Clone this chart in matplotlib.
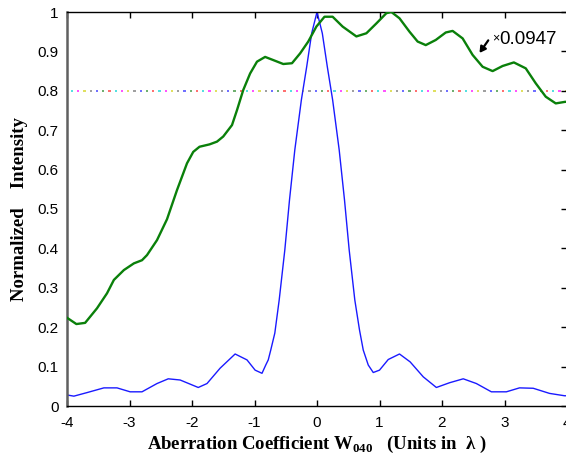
import numpy as np
import matplotlib
matplotlib.use("Agg")
from matplotlib import pyplot as plt

plt.rcParams['font.family'] = ['Liberation Sans', 'DejaVu Sans']
plt.rcParams['axes.unicode_minus'] = False
plt.rcParams['mathtext.fontset'] = 'custom'
plt.rcParams['mathtext.rm'] = 'Liberation Serif:bold'
plt.rcParams['mathtext.bf'] = 'Liberation Serif:bold'

# green curve (scaled by 0.0947)
green_x = [-4.0, -3.85, -3.71, -3.52, -3.36, -3.25, -3.09, -2.93, -2.80, -2.72,
           -2.56, -2.40, -2.24, -2.08, -1.98, -1.88, -1.72, -1.60, -1.50, -1.36,
           -1.28, -1.18, -1.07, -0.96, -0.83, -0.70, -0.54, -0.40, -0.27, -0.14,
           -0.01, 0.12, 0.25, 0.41, 0.63, 0.79, 0.95, 1.11, 1.19, 1.32,
           1.48, 1.61, 1.74, 1.90, 2.06, 2.17, 2.33, 2.49, 2.65, 2.81,
           2.97, 3.15, 3.34, 3.50, 3.66, 3.82, 3.97, 4.0]
green_y = [0.224, 0.208, 0.211, 0.248, 0.286, 0.320, 0.345, 0.362, 0.370, 0.383,
           0.421, 0.474, 0.548, 0.616, 0.645, 0.658, 0.664, 0.671, 0.684, 0.713,
           0.751, 0.802, 0.844, 0.874, 0.886, 0.878, 0.868, 0.870, 0.895, 0.925,
           0.963, 0.988, 0.988, 0.963, 0.938, 0.946, 0.971, 0.997, 1.000, 0.984,
           0.950, 0.925, 0.916, 0.929, 0.948, 0.952, 0.933, 0.891, 0.861, 0.850,
           0.863, 0.872, 0.857, 0.819, 0.785, 0.768, 0.772, 0.772]

# blue curve
blue_x = [-4.0, -3.89, -3.68, -3.41, -3.20, -2.99, -2.80, -2.56, -2.38, -2.19,
          -1.90, -1.76, -1.55, -1.31, -1.12, -0.99, -0.88, -0.82, -0.78, -0.74,
          -0.675, -0.605, -0.515, -0.44, -0.355, -0.25, -0.165, -0.085, 0.0,
          0.085, 0.165, 0.25, 0.355, 0.44, 0.515, 0.605, 0.68, 0.74, 0.82,
          0.90, 1.0, 1.14, 1.32, 1.49, 1.70, 1.91, 2.12, 2.34, 2.55,
          2.79, 3.03, 3.24, 3.46, 3.72, 3.96, 4.0]
blue_y = [0.028, 0.025, 0.034, 0.046, 0.046, 0.036, 0.036, 0.057, 0.069, 0.066,
          0.047, 0.057, 0.096, 0.132, 0.117, 0.091, 0.083, 0.104, 0.117, 0.142,
          0.185, 0.269, 0.396, 0.523, 0.650, 0.777, 0.861, 0.946, 1.000,
          0.946, 0.861, 0.777, 0.650, 0.523, 0.396, 0.269, 0.193, 0.142, 0.104,
          0.085, 0.091, 0.118, 0.132, 0.112, 0.074, 0.047, 0.059, 0.069, 0.057,
          0.036, 0.036, 0.046, 0.045, 0.032, 0.026, 0.026]

threshold = 0.8
scale_text = '0.0947'
x_ticks = [-4, -3, -2, -1, 0, 1, 2, 3, 4]
y_ticks = [0, 0.1, 0.2, 0.3, 0.4, 0.5, 0.6, 0.7, 0.8, 0.9, 1]
y_ticklabels = ['0', '0.1', '0.2', '0.3', '0.4', '0.5', '0.6', '0.7', '0.8', '0.9', '1']

dot_colors = ['#55e0e0', '#ff55ff', '#e0e060', '#a0a0a0', '#7070ff', '#70b070', '#ff7070']

fig = plt.figure(figsize=(5.66, 4.57), dpi=100)
ax = fig.add_axes([67 / 566, 51 / 457, 500 / 566, 394 / 457])

# dotted threshold line, each dot its own colour
dots_x = np.arange(-3.92, 4.0, 0.1)
dots_c = [dot_colors[i % len(dot_colors)] for i in range(len(dots_x))]
ax.scatter(dots_x, [threshold] * len(dots_x), s=2.5, marker='s', c=dots_c,
           linewidths=0, zorder=1)

ax.plot(blue_x, blue_y, color='#1a1aff', lw=1.0, zorder=2)
ax.plot(green_x, green_y, color='#0a800a', lw=1.7, zorder=3)

# scale annotation
ax.annotate('', xy=(2.60, 0.896), xytext=(2.74, 0.928),
            arrowprops=dict(arrowstyle='-|>,head_length=0.35,head_width=0.2',
                            color='black', lw=1.6, shrinkA=0, shrinkB=0))
ax.text(2.80, 0.933, '×', fontsize=9, ha='left', va='center')
ax.text(2.91, 0.930, scale_text, fontsize=13.5, ha='left', va='center')

ax.set_xlim(-4, 4)
ax.set_ylim(0, 1)
ax.set_xticks(x_ticks)
ax.set_yticks(y_ticks)
ax.set_yticklabels(y_ticklabels)

ax.tick_params(axis='both', direction='in', labelsize=11, top=True, right=True,
               length=4, width=1, colors='black', pad=7)
ax.tick_params(axis='y', left=False, pad=6)

for side in ['top', 'bottom']:
    ax.spines[side].set_color('black')
    ax.spines[side].set_linewidth(1.0)
ax.spines['left'].set_color('#606060')
ax.spines['left'].set_linewidth(1.8)
ax.spines['right'].set_visible(False)

ax.set_xlabel(r'Aberration Coefficient W$_{\mathbf{040}}$   (Units in  λ )',
              family='Liberation Serif', weight='bold', fontsize=13.5, labelpad=3)
ax.set_ylabel('Normalized    Intensity', family='Liberation Serif', weight='bold',
              fontsize=13.5, labelpad=7)

fig.savefig('out.png', dpi=100)
